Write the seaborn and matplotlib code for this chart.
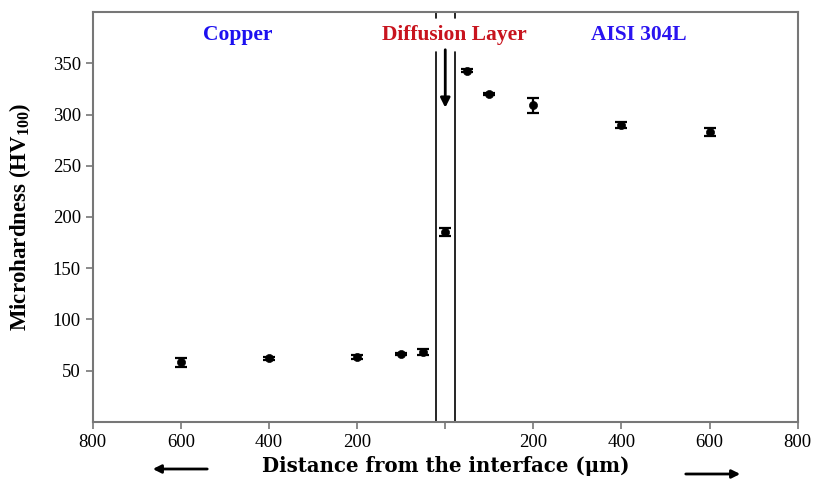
import numpy as np
import pandas as pd
import seaborn as sns
import matplotlib.pyplot as plt

# distance from interface (um), negative = copper side
distance = [-600, -400, -200, -100, -50, 0, 50, 100, 200, 400, 600]
hardness = [58, 62, 63.5, 66.5, 68, 185, 343, 320, 309, 289.5, 283]
error = [4, 1.5, 2, 1, 3, 4, 1.5, 1, 7, 3, 4]

xticks = [-800, -600, -400, -200, 0, 200, 400, 600, 800]
xticklabels = ['800', '600', '400', '200', '', '200', '400', '600', '800']
yticks = [50, 100, 150, 200, 250, 300, 350]

df = pd.DataFrame({'Distance': distance, 'HV': hardness, 'err': error})

sns.set_style('white')
plt.rcParams['font.family'] = ['Liberation Serif', 'DejaVu Serif']
plt.rcParams['mathtext.fontset'] = 'custom'
plt.rcParams['mathtext.rm'] = 'Liberation Serif'
plt.rcParams['mathtext.bf'] = 'Liberation Serif:bold'

fig = plt.figure(figsize=(8.14, 4.86), dpi=100)
ax = fig.add_axes([0.114, 0.132, 0.866, 0.843])

ax.errorbar(df['Distance'], df['HV'], yerr=df['err'], fmt='none',
            ecolor='black', elinewidth=1.6, capsize=4, capthick=1.6, zorder=2)
sns.scatterplot(x='Distance', y='HV', data=df, color='black', s=34,
                edgecolor='black', ax=ax, zorder=3)

# diffusion layer boundaries
for xv in [-20, 23]:
    ax.plot([xv, xv], [0, 361], color='black', lw=1.2)
    ax.plot([xv, xv], [394, 400], color='black', lw=1.2)
ax.annotate('', xy=(0, 304), xytext=(0, 366),
            arrowprops=dict(arrowstyle='-|>', color='black', lw=2, mutation_scale=14))

ax.text(-470, 378, 'Copper', color='#1c10f0', fontsize=15.5, fontweight='bold', ha='center', va='center')
ax.text(20, 378, 'Diffusion Layer', color='#c8141e', fontsize=15.5, fontweight='bold', ha='center', va='center')
ax.text(440, 378, 'AISI 304L', color='#2a14f0', fontsize=15.5, fontweight='bold', ha='center', va='center')

ax.set_xlim(-800, 800)
ax.set_ylim(0, 400)
ax.set_xticks(xticks)
ax.set_xticklabels(xticklabels)
ax.set_yticks(yticks)
ax.tick_params(axis='both', labelsize=13.5, labelcolor='black', direction='out', length=5,
               width=1.2, color='#777777', left=True, bottom=True)
for sp in ax.spines.values():
    sp.set_color('#777777')
    sp.set_linewidth(1.5)

ax.set_xlabel('Distance from the interface (\u03bcm)', fontsize=14.2, fontweight='bold',
              family='DejaVu Serif', color='black', labelpad=4)
ax.set_ylabel('Microhardness (HV$_{\\mathbf{100}}$)', fontsize=16.5, fontweight='bold',
              color='black', labelpad=14)

# direction arrows below the axis
fig.add_artist(plt.Annotation('', xy=(150 / 814, 1 - 469 / 486), xytext=(210 / 814, 1 - 469 / 486),
                              xycoords='figure fraction', textcoords='figure fraction',
                              arrowprops=dict(arrowstyle='-|>', color='black', lw=2, mutation_scale=12)))
fig.add_artist(plt.Annotation('', xy=(743 / 814, 1 - 474 / 486), xytext=(683 / 814, 1 - 474 / 486),
                              xycoords='figure fraction', textcoords='figure fraction',
                              arrowprops=dict(arrowstyle='-|>', color='black', lw=2, mutation_scale=12)))

fig.savefig('out.png', dpi=100)
